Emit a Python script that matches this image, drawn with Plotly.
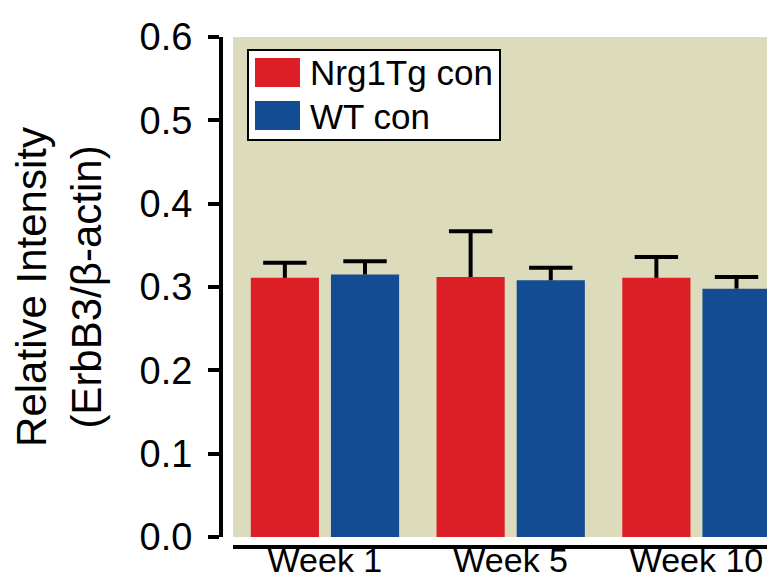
import plotly.graph_objects as go

categories = ["Week 1", "Week 5", "Week 10"]
series_names = ["Nrg1Tg con", "WT con"]
nrg1tg_values = [0.311, 0.312, 0.311]
nrg1tg_err = [0.018, 0.055, 0.025]
wt_values = [0.315, 0.308, 0.298]
wt_err = [0.016, 0.015, 0.014]
y_ticks = [0.0, 0.1, 0.2, 0.3, 0.4, 0.5, 0.6]

RED = "#dc1e27"
BLUE = "#134c93"
BEIGE = "#dcdcbc"
FONT = "Arial, Liberation Sans, sans-serif"

W, H = 775, 587
ML, MR, MT, MB = 200, 0, 29, 40
pw = W - ML - MR
ph = H - MT - MB

BAR_W = 0.367
SLOT = 0.4315
idx = list(range(len(categories)))

fig = go.Figure()
for k, (name, vals, errs, col) in enumerate([
        (series_names[0], nrg1tg_values, nrg1tg_err, RED),
        (series_names[1], wt_values, wt_err, BLUE)]):
    center = (k - 0.5) * SLOT
    fig.add_trace(go.Bar(
        x=idx, y=vals, name=name,
        width=BAR_W, offset=center - BAR_W / 2,
        marker=dict(color=col, line=dict(width=0)),
        error_y=dict(type="data", array=errs, arrayminus=[0] * len(errs), symmetric=False,
                     color="black", thickness=4, width=0),
        showlegend=False,
    ))
    # top caps of the error bars
    fig.add_trace(go.Scatter(
        x=[i + center for i in idx], y=[v + e for v, e in zip(vals, errs)],
        mode="markers",
        marker=dict(symbol="line-ew", size=31, color="black",
                    line=dict(color="black", width=4)),
        showlegend=False, hoverinfo="skip",
    ))

def px_x(x):
    return (x - ML) / pw

def px_y(y):
    return (H - MB - y) / ph

shapes = [dict(type="rect", xref="paper", yref="paper",
               x0=px_x(240), x1=px_x(492), y0=px_y(132), y1=px_y(42),
               line=dict(color="black", width=2), fillcolor="white", layer="above")]
annotations = []
for i, (name, col) in enumerate(zip(series_names, [RED, BLUE])):
    top = 50 + i * 43
    shapes.append(dict(type="rect", xref="paper", yref="paper",
                       x0=px_x(247), x1=px_x(292), y0=px_y(top + 29), y1=px_y(top),
                       line=dict(width=0), fillcolor=col, layer="above"))
    annotations.append(dict(xref="paper", yref="paper", x=px_x(300), y=px_y(top + 15),
                            xanchor="left", yanchor="middle", showarrow=False,
                            text=name, font=dict(family=FONT, size=35, color="black")))

fig.update_layout(
    width=W, height=H,
    margin=dict(l=ML, r=MR, t=MT, b=MB, autoexpand=False),
    paper_bgcolor="white",
    plot_bgcolor=BEIGE,
    bargap=0.137,
    font=dict(family=FONT, color="black"),
    shapes=shapes,
    annotations=annotations,
    xaxis=dict(
        type="linear",
        domain=[px_x(225), 1],
        range=[-0.495, 2.466],
        anchor="free",
        position=(H - MB - 539) / ph,
        automargin=False,
        showline=True, linecolor="black", linewidth=4,
        ticks="", showgrid=False, zeroline=False,
        tickvals=idx, ticktext=categories,
        ticklabelstandoff=-18,
        tickfont=dict(family=FONT, size=34, color="black"),
    ),
    yaxis=dict(
        domain=[px_y(529), 1],
        range=[0, 0.6],
        anchor="free",
        position=px_x(213),
        automargin=False,
        showline=True, linecolor="black", linewidth=4,
        ticks="outside", ticklen=11, tickwidth=3.5, tickcolor="black",
        tickvals=y_ticks, ticktext=[f"{v:.1f}" for v in y_ticks],
        ticklabelstandoff=8,
        showgrid=False, zeroline=False,
        tickfont=dict(family=FONT, size=38, color="black"),
        title=dict(text="Relative Intensity<br>(ErbB3/β-actin)",
                   font=dict(family=FONT, size=42, color="black"), standoff=30),
    ),
)

fig.write_html("out.html")
